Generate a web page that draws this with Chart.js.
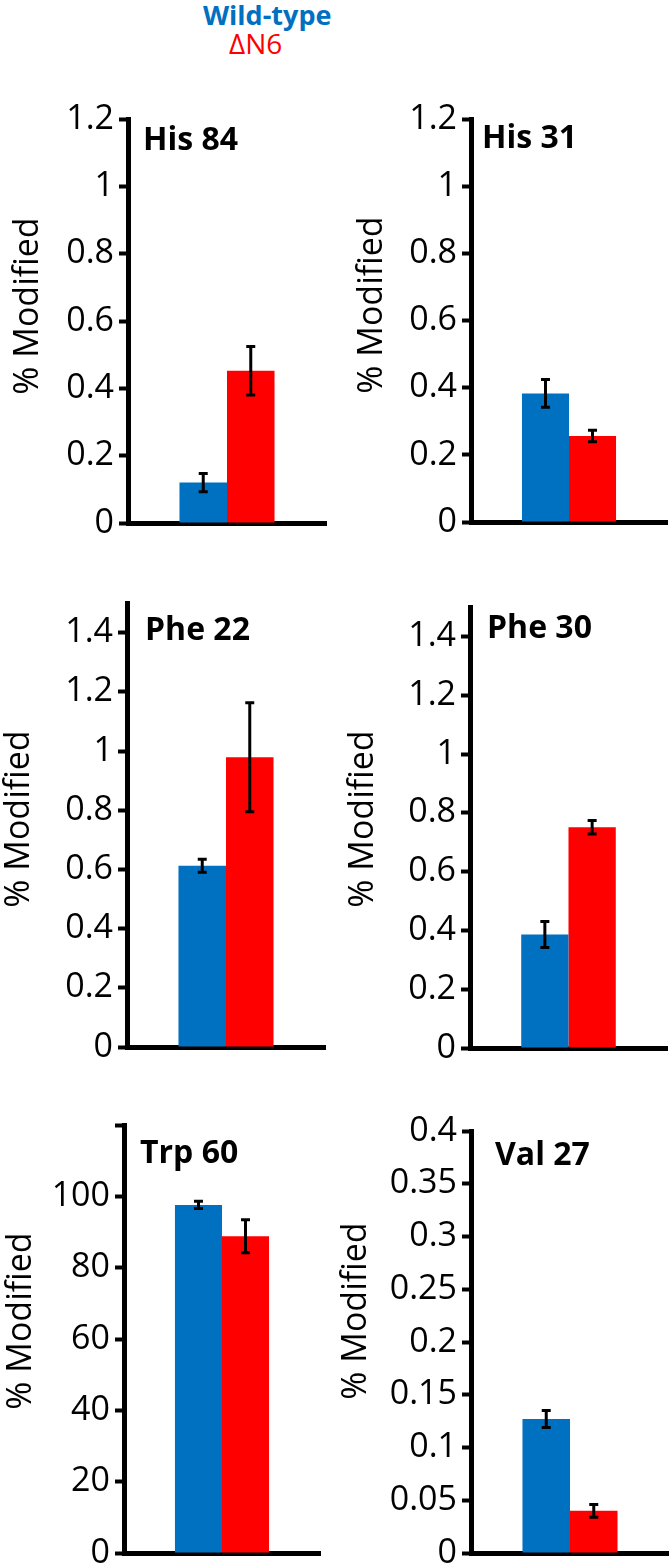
<!DOCTYPE html>
<html>
<head>
<meta charset="utf-8">
<script src="https://cdn.jsdelivr.net/npm/chart.js@4.4.0/dist/chart.umd.min.js"></script>
<style>
html,body{margin:0;padding:0;background:#fff;}
body{width:669px;height:1565px;position:relative;overflow:hidden;font-family:'Open Sans',sans-serif;}
.lg{position:absolute;white-space:nowrap;line-height:1;}
canvas{position:absolute;}
</style>
</head>
<body>
<div class="lg" style="left:203px;top:1px;font-size:27px;font-weight:bold;color:#0070C0;">Wild-type</div>
<div class="lg" style="left:229px;top:29px;font-size:28px;color:#FF0000;">ΔN6</div>
<canvas id="c0"></canvas>
<canvas id="c1"></canvas>
<canvas id="c2"></canvas>
<canvas id="c3"></canvas>
<canvas id="c4"></canvas>
<canvas id="c5"></canvas>
<script>
// ---- data ----
const residues = ['His 84', 'His 31', 'Phe 22', 'Phe 30', 'Trp 60', 'Val 27'];
const seriesNames = ['Wild-type', 'ΔN6'];
const wildType    = [0.120, 0.383, 0.612, 0.386, 97.6, 0.127];
const wildTypeErr = [0.027, 0.041, 0.022, 0.044, 1.0, 0.008];
const deltaN6     = [0.452, 0.256, 0.979, 0.751, 88.8, 0.040];
const deltaN6Err  = [0.072, 0.017, 0.184, 0.023, 4.6, 0.006];
const yMax = [1.2, 1.2, 1.5, 1.5, 120, 0.4];
const tickValues = [
  [0, 0.2, 0.4, 0.6, 0.8, 1, 1.2],
  [0, 0.2, 0.4, 0.6, 0.8, 1, 1.2],
  [0, 0.2, 0.4, 0.6, 0.8, 1, 1.2, 1.4],
  [0, 0.2, 0.4, 0.6, 0.8, 1, 1.2, 1.4],
  [0, 20, 40, 60, 80, 100, 120],
  [0, 0.05, 0.1, 0.15, 0.2, 0.25, 0.3, 0.35, 0.4]
];
const tickLabels = [
  ['0', '0.2', '0.4', '0.6', '0.8', '1', '1.2'],
  ['0', '0.2', '0.4', '0.6', '0.8', '1', '1.2'],
  ['0', '0.2', '0.4', '0.6', '0.8', '1', '1.2', '1.4'],
  ['0', '0.2', '0.4', '0.6', '0.8', '1', '1.2', '1.4'],
  ['0', '20', '40', '60', '80', '100', ''],
  ['0', '0.05', '0.1', '0.15', '0.2', '0.25', '0.3', '0.35', '0.4']
];
const yAxisTitle = '% Modified';

// ---- layout (page coordinates) ----
const layoutSpec = [
  {box:[0,60,335,495],    area:[128,326,119,523],   label:[143,150],  ytitle:[28,306]},
  {box:[335,60,334,495],  area:[471,667,119,522],   label:[482,148],  ytitle:[372,305]},
  {box:[0,555,335,520],   area:[127,325,603,1047],  label:[145,640],  ytitle:[19,819]},
  {box:[335,555,334,520], area:[470,667,607,1048],  label:[487,638],  ytitle:[363,819]},
  {box:[0,1075,335,490],  area:[124,320,1125,1553], label:[140,1163], ytitle:[21,1321]},
  {box:[335,1075,334,490],area:[471,669,1131,1553], label:[495,1165], ytitle:[356,1311]}
];

const FONT = "'Open Sans', sans-serif";
Chart.defaults.font.family = FONT;
Chart.defaults.color = '#000';

const panelText = {
  id: 'panelText',
  afterDraw(chart, args, opts) {
    const ctx = chart.ctx;
    ctx.save();
    ctx.fillStyle = '#000';
    ctx.font = "bold 32px " + FONT;
    ctx.textAlign = 'left';
    ctx.textBaseline = 'alphabetic';
    ctx.fillText(opts.label, opts.lx, opts.ly);
    ctx.translate(opts.tx, opts.ty);
    ctx.rotate(-Math.PI / 2);
    ctx.font = "34px " + FONT;
    ctx.textAlign = 'center';
    ctx.textBaseline = 'middle';
    ctx.fillText(opts.title, 0, 0);
    ctx.restore();
  }
};

const errorBars = {
  id: 'errorBars',
  afterDatasetsDraw(chart) {
    const ctx = chart.ctx, y = chart.scales.y;
    ctx.save();
    ctx.strokeStyle = '#000';
    ctx.lineCap = 'butt';
    chart.data.datasets.forEach((ds, di) => {
      const meta = chart.getDatasetMeta(di);
      meta.data.forEach((bar, j) => {
        const v = ds.data[j], e = ds.errors[j];
        const yt = y.getPixelForValue(v + e), yb = y.getPixelForValue(v - e);
        ctx.lineWidth = 3;
        ctx.beginPath();
        ctx.moveTo(bar.x, yt); ctx.lineTo(bar.x, yb);
        ctx.stroke();
        ctx.lineWidth = 3;
        ctx.beginPath();
        ctx.moveTo(bar.x - 4.5, yt); ctx.lineTo(bar.x + 4.5, yt);
        ctx.moveTo(bar.x - 4.5, yb); ctx.lineTo(bar.x + 4.5, yb);
        ctx.stroke();
      });
    });
    ctx.restore();
  }
};

residues.forEach((name, i) => {
  const L = layoutSpec[i];
  const [cx, cy, cw, ch] = L.box;
  const [al, ar, at, ab] = L.area;
  const cv = document.getElementById('c' + i);
  cv.style.left = cx + 'px';
  cv.style.top = cy + 'px';
  cv.width = cw; cv.height = ch;
  cv.style.width = cw + 'px'; cv.style.height = ch + 'px';

  new Chart(cv, {
    type: 'bar',
    data: {
      labels: [name],
      datasets: [
        {label: seriesNames[0], data: [wildType[i]], errors: [wildTypeErr[i]], backgroundColor: '#0070C0', borderWidth: 0},
        {label: seriesNames[1], data: [deltaN6[i]], errors: [deltaN6Err[i]], backgroundColor: '#FF0000', borderWidth: 0}
      ]
    },
    plugins: [panelText, errorBars],
    options: {
      responsive: false,
      animation: false,
      devicePixelRatio: 1,
      events: [],
      layout: {padding: {left: 0, top: at - cy, right: cx + cw - ar, bottom: cy + ch - ab}},
      datasets: {bar: {categoryPercentage: 0.48, barPercentage: 1}},
      plugins: {
        legend: {display: false},
        tooltip: {enabled: false},
        panelText: {
          label: name, lx: L.label[0] - cx, ly: L.label[1] - cy,
          title: yAxisTitle, tx: L.ytitle[0] - cx, ty: L.ytitle[1] - cy
        }
      },
      scales: {
        x: {
          z: 1,
          grid: {display: false, drawTicks: false},
          ticks: {display: false},
          border: {display: true, color: '#000', width: 5},
          afterFit(s) { s.height = 0; s.paddingLeft = 0; s.paddingRight = 0; }
        },
        y: {
          min: 0, max: yMax[i],
          grid: {display: true, drawOnChartArea: false, drawTicks: true, tickLength: 9, tickWidth: 4, tickColor: '#000'},
          border: {display: true, color: '#000', width: 5},
          ticks: {
            font: {size: 34, family: FONT},
            color: '#000',
            padding: 5,
            autoSkip: false,
            callback: (v, idx) => tickLabels[i][idx]
          },
          afterBuildTicks(s) { s.ticks = tickValues[i].map(v => ({value: v})); },
          afterFit(s) { s.width = al - cx; s.paddingTop = 0; s.paddingBottom = 0; }
        }
      }
    }
  });
});
</script>
</body>
</html>
